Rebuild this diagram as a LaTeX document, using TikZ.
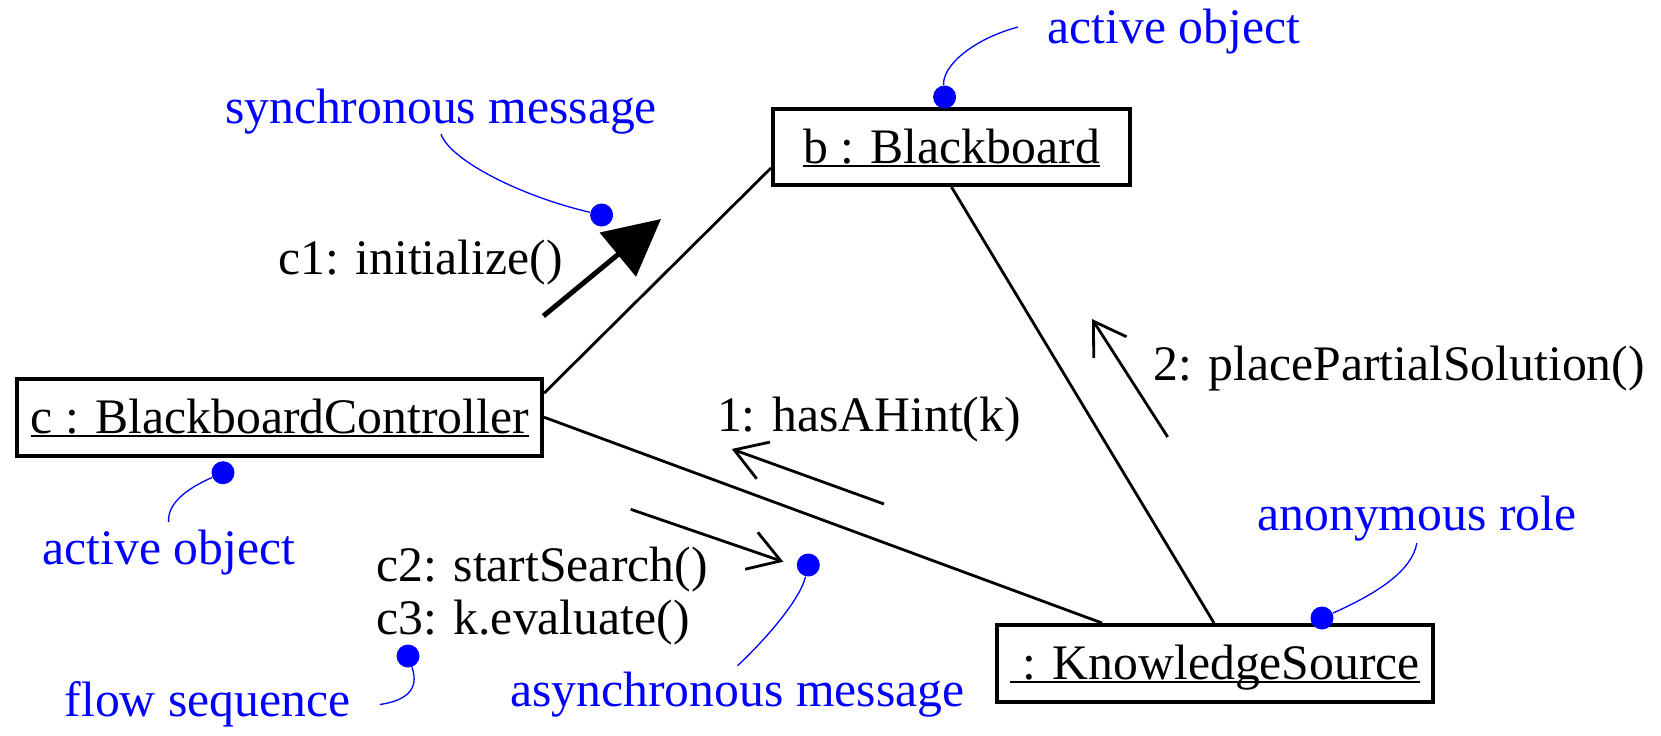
\documentclass[tikz,border=0pt]{standalone}
\usepackage{fontspec}
\setmainfont{Liberation Serif}
\usetikzlibrary{arrows.meta}
\newsavebox\ulbox
\newcommand\myul[1]{\sbox\ulbox{#1}\rlap{\rule[-1.8pt]{\wd\ulbox}{1pt}}\usebox\ulbox}
\begin{document}
\begin{tikzpicture}[x=0.5pt,y=-0.5pt,
  txt/.style={font=\fontsize{24.85}{30}\selectfont, inner sep=0pt},
  note/.style={txt, text=blue},
  objbox/.style={draw, line width=2pt, txt, text height=16pt, text depth=0pt},
  assoc/.style={line width=1.4pt},
  syncmsg/.style={line width=2.5pt, -{Triangle[length=28pt,width=28pt]}},
  asyncmsg/.style={line width=1.4pt, -{Straight Barb[length=15.5pt,width=19.5pt]}},
  dot/.style={circle, fill=blue, inner sep=0pt, minimum size=11.5pt},
  leader/.style={blue, line width=0.65pt}]
\useasboundingbox (0,0) rectangle (1661,735);

% objects
\node[objbox, minimum width=262.35pt, minimum height=38.5pt] (c) at (279.7,417.2) {\myul{c : BlackboardController}};
\node[objbox, minimum width=178.5pt, minimum height=38pt] (b) at (951.5,147) {\myul{b : Blackboard}};
\node[objbox, minimum width=218pt, minimum height=38.5pt] (ks) at (1215,663.5) {\myul{\ : KnowledgeSource}};

% links
\draw[assoc] ([yshift=12pt]c.east) -- ([yshift=-10.5pt]b.west);
\draw[assoc] (c.east) -- ([xshift=-56.5pt]ks.north);
\draw[assoc] (b.south) -- ([xshift=-0.5pt]ks.north);

% message labels
\node[txt, anchor=base west] (m1) at (278,274) {c1: initialize()};
\node[txt, anchor=base west] (m2) at (716.7,431.7) {1: hasAHint(k)};
\node[txt, anchor=base west] (m3) at (1153,380) {2: placePartialSolution()};
\node[txt, anchor=base west] (m4) at (376,581) {c2: startSearch()};
\node[txt, anchor=base west] (m5) at (376,634) {c3: k.evaluate()};

% message arrows
\coordinate (s1) at (543.4,316);
\coordinate (s2) at (661,219);
\draw[syncmsg] (s1) -- (s2);
\coordinate (h1) at (884,504);
\coordinate (h2) at (731.7,449);
\draw[asyncmsg] (h1) -- (h2);
\coordinate (p1) at (1167.7,437);
\coordinate (p2) at (1092,319);
\draw[asyncmsg] (p1) -- (p2);
\coordinate (a1) at (630.7,509.3);
\coordinate (a2) at (783.3,561.7);
\draw[asyncmsg] (a1) -- (a2);

% notes
\node[note, anchor=base west] (nsync) at (224.6,123) {synchronous message};
\node[note, anchor=base west] (nbact) at (1047,43) {active object};
\node[note, anchor=base west] (ncact) at (42,564) {active object};
\node[note, anchor=base west] (nflow) at (64.3,716.7) {flow sequence};
\node[note, anchor=base west] (nasync) at (510,706.7) {asynchronous message};
\node[note, anchor=base west] (nanon) at (1257,530) {anonymous role};

% dots
\node[dot] (dsync) at (601.6,215) {};
\node[dot] (dbact) at (944.6,97) {};
\node[dot] (dcact) at (223,472.7) {};
\node[dot] (dasync) at (808.3,565) {};
\node[dot] (dflow) at (408,656) {};
\node[dot] (danon) at (1322,618) {};

% leaders
\draw[leader] (nsync.south) .. controls (450,160) and (520,196) .. (dsync);
\draw[leader] (dbact) .. controls (942,66) and (973,39) .. ([xshift=-14.5pt,yshift=2pt]nbact.west);
\draw[leader] ([yshift=3.5pt]ncact.north) .. controls (167,503) and (188,488) .. (dcact);
\draw[leader] (dflow) .. controls (420,690) and (405,701) .. ([xshift=14.5pt]nflow.east);
\draw[leader] (dasync) .. controls (800,600) and (765,640) .. ([yshift=3pt]nasync.north);
\draw[leader] ([yshift=-1pt]nanon.south) .. controls (1412,570) and (1380,592) .. (danon);
\end{tikzpicture}
\end{document}
